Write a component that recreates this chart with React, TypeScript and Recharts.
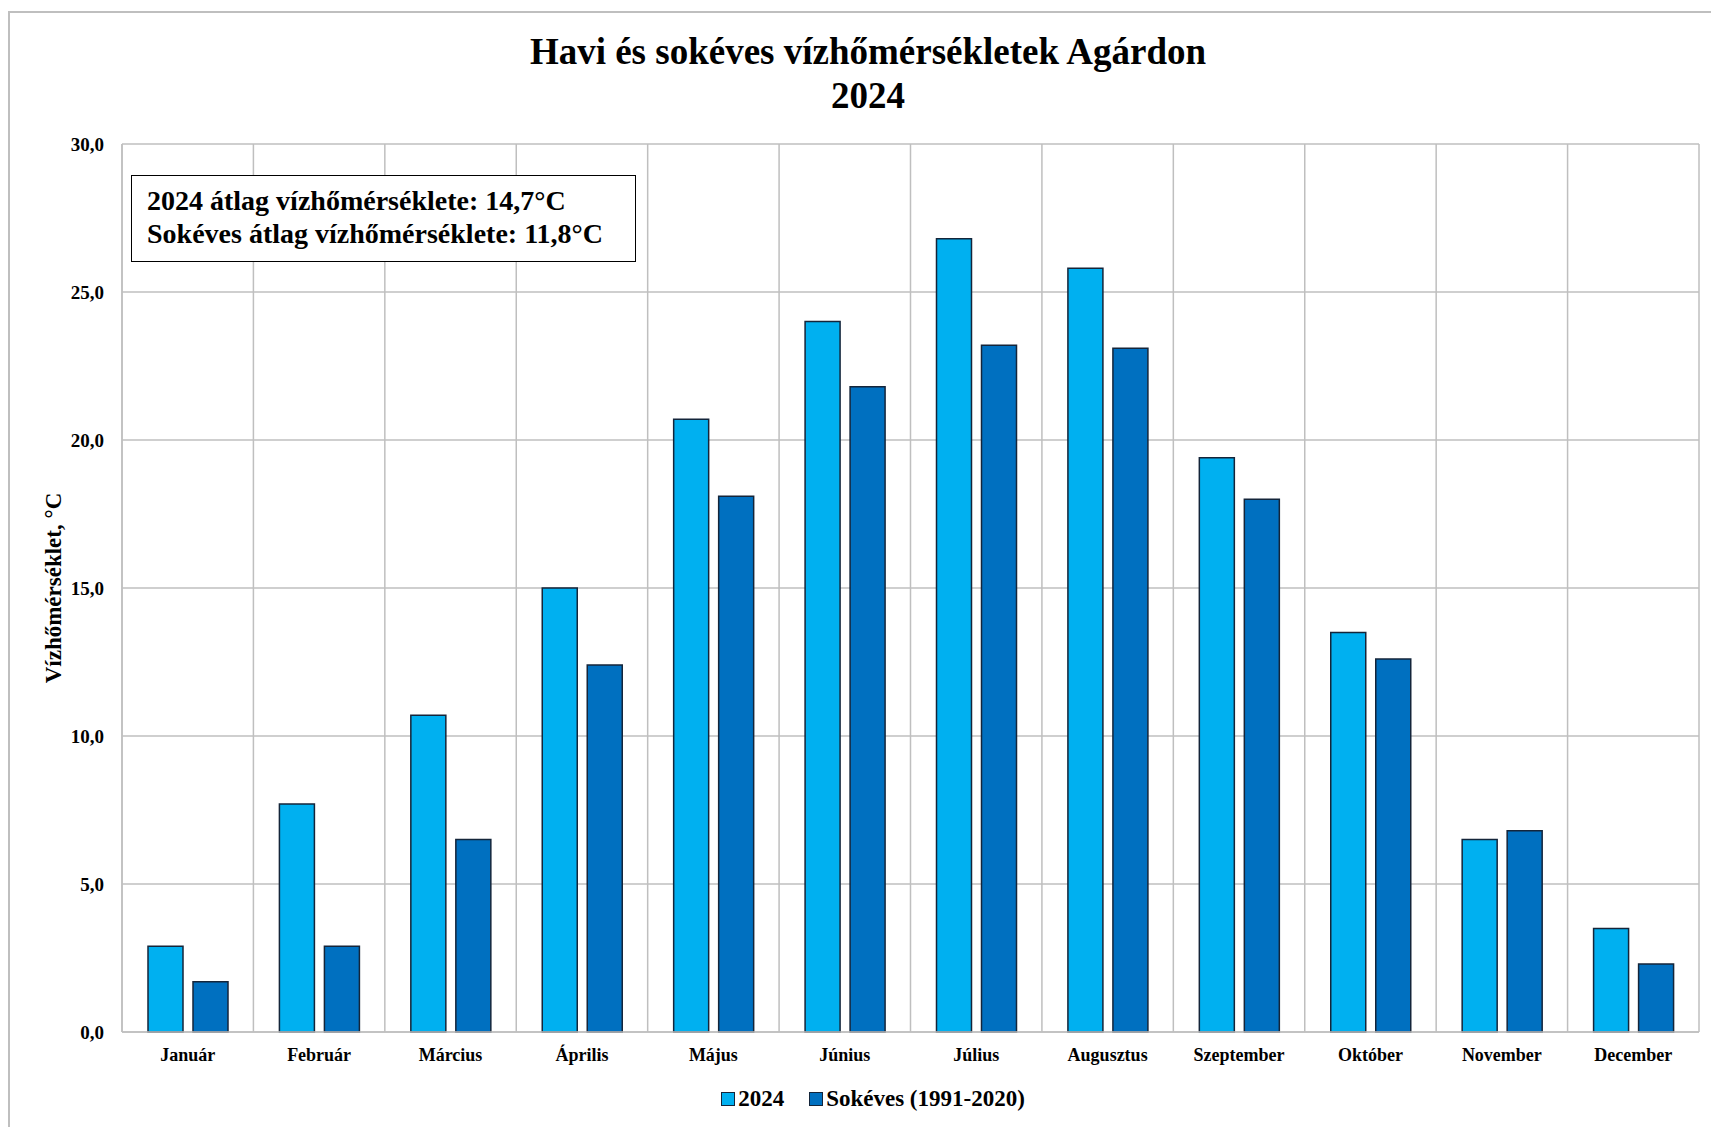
import React from 'react';
import {
  BarChart,
  Bar,
  XAxis,
  YAxis,
  CartesianGrid,
} from 'recharts';

const months = [
  'Január', 'Február', 'Március', 'Április', 'Május', 'Június',
  'Július', 'Augusztus', 'Szeptember', 'Október', 'November', 'December',
];
const temps2024 = [2.9, 7.7, 10.7, 15.0, 20.7, 24.0, 26.8, 25.8, 19.4, 13.5, 6.5, 3.5];
const tempsLongTerm = [1.7, 2.9, 6.5, 12.4, 18.1, 21.8, 23.2, 23.1, 18.0, 12.6, 6.8, 2.3];
const yTicks = [0, 5, 10, 15, 20, 25, 30];

const seriesNames = ['2024', 'Sokéves (1991-2020)'];
const seriesColors = ['#00B0F0', '#0070C0'];

const titleLines = ['Havi és sokéves vízhőmérsékletek Agárdon', '2024'];
const noteLines = [
  '2024 átlag vízhőmérséklete: 14,7°C',
  'Sokéves átlag vízhőmérséklete: 11,8°C',
];

const data = months.map((m, i) => ({
  month: m,
  y2024: temps2024[i],
  longTerm: tempsLongTerm[i],
}));

const FONT = '"Liberation Serif", "Times New Roman", serif';
const GRID = '#bfbfbf';
const EDGE = '#14253a';

const fmt = (v: number) => v.toFixed(1).replace('.', ',');

export default function App() {
  return (
    <div
      style={{
        position: 'absolute',
        left: 0,
        top: 0,
        width: 1711,
        height: 1127,
        background: '#fff',
        overflow: 'hidden',
        fontFamily: FONT,
      }}
    >
      {/* outer frame */}
      <div
        style={{
          position: 'absolute',
          left: 8,
          top: 11,
          width: 1740,
          height: 1200,
          border: `2px solid ${GRID}`,
          boxSizing: 'border-box',
        }}
      />

      <div
        style={{
          position: 'absolute',
          left: 868 - 500,
          top: 30,
          width: 1000,
          textAlign: 'center',
          fontWeight: 'bold',
          fontSize: 37,
          lineHeight: '44px',
          color: '#000',
        }}
      >
        {titleLines.map((t) => (
          <div key={t}>{t}</div>
        ))}
      </div>

      <div style={{ position: 'absolute', left: 0, top: 0 }}>
        <BarChart
          width={1711}
          height={1127}
          data={data}
          margin={{ top: 144, right: 12, bottom: 65, left: 0 }}
          barGap={10}
        >
          <CartesianGrid
            stroke={GRID}
            strokeWidth={1.5}
            verticalCoordinatesGenerator={({ offset }: any) =>
              months
                .map((_, i) => offset.left + (i * offset.width) / months.length)
                .concat(offset.left + offset.width)
            }
          />
          <XAxis
            dataKey="month"
            height={30}
            tickLine={false}
            axisLine={{ stroke: GRID, strokeWidth: 1.5 }}
            tickMargin={10}
            interval={0}
            tick={{ fontFamily: FONT, fontSize: 18, fontWeight: 'bold', fill: '#000' }}
          />
          <YAxis
            width={122}
            domain={[0, 30]}
            ticks={yTicks}
            tickFormatter={fmt}
            tickLine={false}
            axisLine={{ stroke: GRID, strokeWidth: 1.5 }}
            tickMargin={12}
            tick={{ fontFamily: FONT, fontSize: 19, fontWeight: 'bold', fill: '#000' }}
            label={{
              value: 'Vízhőmérséklet, °C',
              angle: -90,
              position: 'insideLeft',
              offset: 53,
              style: { fontFamily: FONT, fontSize: 23, fontWeight: 'bold', fill: '#000', textAnchor: 'middle' },
            }}
          />
          <Bar
            dataKey="y2024"
            name={seriesNames[0]}
            fill={seriesColors[0]}
            stroke={EDGE}
            strokeWidth={1.5}
            barSize={35}
            isAnimationActive={false}
          />
          <Bar
            dataKey="longTerm"
            name={seriesNames[1]}
            fill={seriesColors[1]}
            stroke={EDGE}
            strokeWidth={1.5}
            barSize={35}
            isAnimationActive={false}
          />
        </BarChart>
      </div>

      {/* average temperatures note */}
      <div
        style={{
          position: 'absolute',
          left: 131,
          top: 175,
          width: 505,
          height: 87,
          border: '1.5px solid #000',
          boxSizing: 'border-box',
          background: '#fff',
          padding: '8px 0 0 15px',
          fontWeight: 'bold',
          fontSize: 28,
          lineHeight: '33px',
          color: '#000',
          whiteSpace: 'nowrap',
        }}
      >
        {noteLines.map((t) => (
          <div key={t}>{t}</div>
        ))}
      </div>

      {/* legend */}
      <div
        style={{
          position: 'absolute',
          left: 0,
          top: 1086,
          width: 1746,
          display: 'flex',
          justifyContent: 'center',
          alignItems: 'center',
          gap: 25,
          fontWeight: 'bold',
          fontSize: 23,
          color: '#000',
        }}
      >
        {seriesNames.map((n, i) => (
          <div key={n} style={{ display: 'flex', alignItems: 'center', gap: 3 }}>
            <span
              style={{
                display: 'inline-block',
                width: 12,
                height: 12,
                background: seriesColors[i],
                border: `1px solid ${EDGE}`,
              }}
            />
            <span>{n}</span>
          </div>
        ))}
      </div>
    </div>
  );
}
